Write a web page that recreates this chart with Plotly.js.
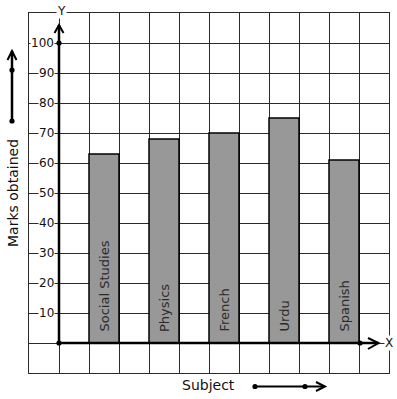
<!DOCTYPE html>
<html>
<head>
<meta charset="utf-8">
<script src="https://cdn.plot.ly/plotly-3.0.1.min.js"></script>
<style>html,body{margin:0;padding:0;background:#fff;}#chart{width:397px;height:399px;}</style>
</head>
<body>
<div id="chart"></div>
<script>
// ---- data ----
const subjects = ["Social Studies", "Physics", "French", "Urdu", "Spanish"];
const marks = [63, 68, 70, 75, 61];
const yTickValues = [10, 20, 30, 40, 50, 60, 70, 80, 90, 100];
const yTickLabels = ["10", "20", "30", "40", "50", "60", "70", "80", "90", "100"];
const xAxisTitle = "Subject";
const yAxisTitle = "Marks obtained";

// ---- layout geometry ----
const W = 397, H = 399;
const mL = 29, mR = 8, mT = 13, mB = 26;
const pw = W - mL - mR, ph = H - mT - mB;
function PX(px) { return (px - mL) / pw; }
function PY(py) { return (H - mB - py) / ph; }
function path(pts) {
  return pts.map((p, i) => (i ? "L" : "M") + PX(p[0]).toFixed(5) + "," + PY(p[1]).toFixed(5)).join(" ");
}

const xs = subjects.map((s, i) => 1.5 + 2 * i);

const bars = {
  type: "bar",
  x: xs,
  y: marks,
  width: 1,
  marker: { color: "#989898", line: { color: "#000", width: 1.5 } },
  hoverinfo: "skip"
};

const annotations = [];
yTickValues.forEach((v, i) => {
  annotations.push({
    x: -0.15, y: v, xref: "x", yref: "y", xanchor: "right", yanchor: "middle",
    text: yTickLabels[i], showarrow: false, bgcolor: "#fff", borderpad: 0,
    font: { family: "DejaVu Sans", size: 12, color: "#111" }
  });
});
subjects.forEach((s, i) => {
  annotations.push({
    x: xs[i], y: 3, xref: "x", yref: "y", xanchor: "center", yanchor: "bottom",
    text: s, textangle: -90, showarrow: false,
    font: { family: "DejaVu Sans", size: 13, color: "#2a2a2a" }
  });
});
function paperText(px, py, txt, size, angle, bg) {
  const a = { x: PX(px), y: PY(py), xref: "paper", yref: "paper", xanchor: "center", yanchor: "middle",
    text: txt, showarrow: false, textangle: angle || 0, borderpad: 0,
    font: { family: "DejaVu Sans", size: size, color: "#111" } };
  if (bg) a.bgcolor = "#fff";
  return a;
}
annotations.push(paperText(61, 10.5, "Y", 12, 0, true));
annotations.push(paperText(388.5, 343, "X", 12, 0, true));
annotations.push(paperText(208, 385, xAxisTitle, 14, 0, false));
annotations.push(paperText(13, 193, yAxisTitle, 14, -90, false));

const lw = 2.5;
const shapes = [
  // y axis
  { type: "line", xref: "x", yref: "y", x0: 0, y0: 0, x1: 0, y1: 106, line: { color: "#000", width: lw }, layer: "above" },
  { type: "path", xref: "paper", yref: "paper", path: path([[54.5, 33], [59, 25], [63.5, 33]]), line: { color: "#000", width: 2 }, layer: "above" },
  // x axis
  { type: "line", xref: "x", yref: "y", x0: 0, y0: 0, x1: 10.65, y1: 0, line: { color: "#000", width: lw }, layer: "above" },
  { type: "path", xref: "paper", yref: "paper", path: path([[368, 338], [378.5, 343], [368, 349]]), line: { color: "#000", width: 2 }, layer: "above" },
  // left decorative arrow
  { type: "line", xref: "paper", yref: "paper", x0: PX(12), y0: PY(121), x1: PX(12), y1: PY(51), line: { color: "#000", width: lw } },
  { type: "path", xref: "paper", yref: "paper", path: path([[7.5, 60], [12, 51], [16.5, 60]]), line: { color: "#000", width: 2 } },
  // bottom decorative arrow
  { type: "line", xref: "paper", yref: "paper", x0: PX(255), y0: PY(386.5), x1: PX(324), y1: PY(386.5), line: { color: "#000", width: 2 } },
  { type: "path", xref: "paper", yref: "paper", path: path([[316, 382], [325, 386.5], [316, 391]]), line: { color: "#000", width: 2 } }
];
// dots
const dots = [[59, 43], [59, 343], [360, 343], [12, 70], [12, 121], [255, 386.5], [305, 386.5]];
dots.forEach(d => {
  const r = 2.6;
  shapes.push({ type: "circle", xref: "paper", yref: "paper",
    x0: PX(d[0] - r), x1: PX(d[0] + r), y0: PY(d[1] + r), y1: PY(d[1] - r),
    fillcolor: "#000", line: { color: "#000", width: 0 }, layer: "above" });
});

const axisCommon = {
  showgrid: true, gridcolor: "#2b2b2b", gridwidth: 1,
  zeroline: false, showticklabels: false, ticks: "",
  showline: true, mirror: true, linecolor: "#2b2b2b", linewidth: 1, fixedrange: true
};

const layout = {
  width: W, height: H,
  margin: { l: mL, r: mR, t: mT, b: mB, pad: 0 },
  paper_bgcolor: "#fff", plot_bgcolor: "#fff",
  showlegend: false,
  xaxis: Object.assign({}, axisCommon, { range: [-1, 11], dtick: 1, tick0: 0 }),
  yaxis: Object.assign({}, axisCommon, { range: [-10, 110], dtick: 10, tick0: 0 }),
  annotations: annotations,
  shapes: shapes,
  bargap: 0
};

Plotly.newPlot("chart", [bars], layout, { displayModeBar: false, staticPlot: true });
</script>
</body>
</html>
